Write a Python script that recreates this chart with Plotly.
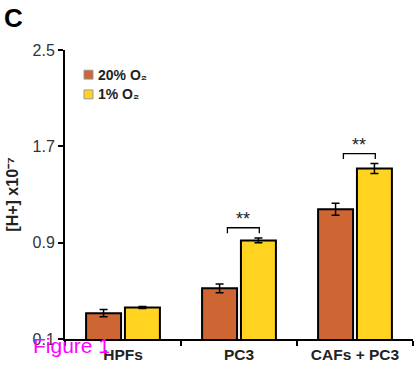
import plotly.graph_objects as go

categories = ["HPFs", "PC3", "CAFs + PC3"]
normoxia = [0.314, 0.521, 1.178]
normoxia_err = [0.03, 0.036, 0.05]
hypoxia = [0.361, 0.919, 1.516]
hypoxia_err = [0.008, 0.02, 0.041]
series_names = ["20% O₂", "1% O₂"]
y_ticks = [0.1, 0.9, 1.7, 2.5]
sig_pairs = [1, 2]          # category indices with significance bracket
sig_top = [1.024, 1.64]
sig_labels = ["**", "**"]

FONT = "Liberation Sans, Arial, sans-serif"
ORANGE = "#CD6633"
YELLOW = "#FFD320"
colors = [ORANGE, YELLOW]

fig = go.Figure()
for name, vals, errs, col in zip(series_names, [normoxia, hypoxia], [normoxia_err, hypoxia_err], colors):
    fig.add_trace(go.Bar(
        x=categories, y=vals, name=name, showlegend=False,
        marker=dict(color=col, line=dict(color="black", width=2)),
        error_y=dict(type="data", array=errs, color="black", thickness=1.5, width=4),
    ))

shapes = []
annotations = []
for idx, top, lab in zip(sig_pairs, sig_top, sig_labels):
    x0, x1 = idx - 0.1, idx + 0.175
    leg = 0.045
    shapes.append(dict(type="path", xref="x", yref="y",
                       path=f"M {x0},{top-leg} L {x0},{top} L {x1},{top} L {x1},{top-leg}",
                       line=dict(color="black", width=1.3)))
    annotations.append(dict(x=(x0 + x1) / 2, y=top, xref="x", yref="y", text=lab,
                            showarrow=False, yanchor="bottom", yshift=-3,
                            font=dict(family=FONT, size=18, color="#222")))

# manual legend (paper coords relative to plot area)
TOP, BOT, LEFT = 50, 343, 65
PW, PH = 348.0, float(BOT - TOP)
leg_rows_px = [75, 95]  # y centres in page pixels
for name, col, ypx in zip(series_names, colors, leg_rows_px):
    yc = (BOT - ypx) / PH
    shapes.append(dict(type="rect", xref="paper", yref="paper",
                       x0=(84 - LEFT) / PW, x1=(93 - LEFT) / PW,
                       y0=yc - 4.5 / PH, y1=yc + 4.5 / PH,
                       fillcolor=col, line=dict(color="#999", width=1)))
    annotations.append(dict(x=(96 - LEFT) / PW, y=yc, xref="paper", yref="paper",
                            xanchor="left", yanchor="middle", text=f"<b>{name}</b>",
                            showarrow=False, font=dict(family=FONT, size=14, color="#222")))

annotations.append(dict(x=0, y=1, xref="paper", yref="paper", xanchor="left", yanchor="top",
                        xshift=-63, yshift=49, text="<b>C</b>", showarrow=False,
                        font=dict(family=FONT, size=26, color="black")))
annotations.append(dict(x=0, y=0, xref="paper", yref="paper", xanchor="left", yanchor="middle",
                        xshift=-34, yshift=-6, text="Figure 1", showarrow=False,
                        font=dict(family=FONT, size=21, color="#FF00FF")))

fig.update_layout(
    width=415, height=365,
    margin=dict(l=LEFT, r=2, t=TOP, b=365 - BOT),
    paper_bgcolor="white", plot_bgcolor="white",
    barmode="group", bargap=0.33, bargroupgap=0.1,
    font=dict(family=FONT, color="#222"),
    shapes=shapes,
    annotations=annotations,
    yaxis=dict(range=[0.1, 2.5], tickvals=y_ticks, ticktext=[f"{v:.1f}" for v in y_ticks],
               showgrid=False, zeroline=False, showline=True, linecolor="black", linewidth=2,
               ticks="outside", ticklen=5, tickwidth=2, tickcolor="black",
               tickfont=dict(family=FONT, size=16, color="#333"),
               title=dict(text="<b>[H+] x10⁻⁷</b>", standoff=10,
                          font=dict(family=FONT, size=16, color="#222"))),
    xaxis=dict(showgrid=False, zeroline=False, showline=True, linecolor="black", linewidth=2,
               ticks="outside", tickson="boundaries", ticklen=5, tickwidth=2, tickcolor="black",
               tickfont=dict(family=FONT, size=15.5, color="#222", weight="bold")),
)

fig.write_html("out.html")
